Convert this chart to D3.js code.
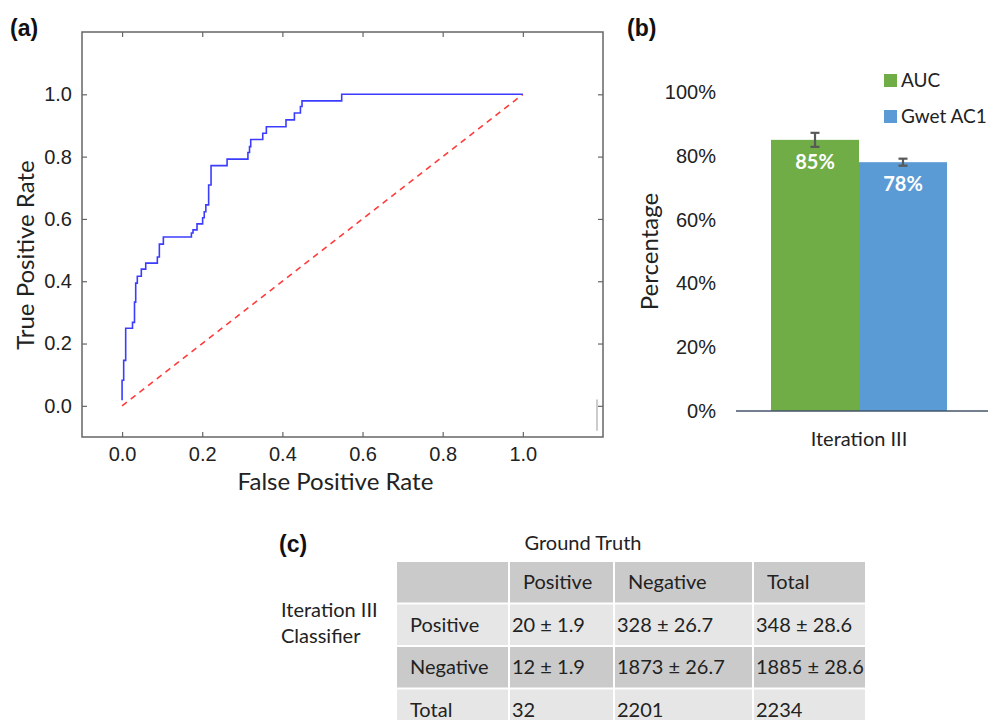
<!DOCTYPE html>
<html>
<head>
<meta charset="utf-8">
<script src="https://cdn.jsdelivr.net/npm/d3@7"></script>
<style>
  body { margin: 0; background: #fff; }
  svg { display: block; font-family: Lato, "Open Sans", sans-serif; }
</style>
</head>
<body>
<svg id="fig" width="988" height="720"></svg>
<script>
// ROC curve vertices (false positive rate, true positive rate)
const rocFpr = [0.000, 0.000, 0.004, 0.004, 0.009, 0.009, 0.026, 0.026, 0.031, 0.031,
  0.034, 0.034, 0.038, 0.038, 0.048, 0.048, 0.059, 0.059, 0.088, 0.088,
  0.093, 0.093, 0.103, 0.103, 0.173, 0.173, 0.177, 0.177, 0.187, 0.187,
  0.201, 0.201, 0.205, 0.205, 0.209, 0.209, 0.216, 0.216, 0.222, 0.222,
  0.262, 0.262, 0.314, 0.314, 0.318, 0.318, 0.321, 0.321, 0.351, 0.351,
  0.360, 0.360, 0.409, 0.409, 0.430, 0.430, 0.445, 0.445, 0.449, 0.449,
  0.548, 0.548, 1.000];
const rocTpr = [0.018, 0.082, 0.082, 0.146, 0.146, 0.249, 0.249, 0.268, 0.268, 0.333,
  0.333, 0.394, 0.394, 0.416, 0.416, 0.439, 0.439, 0.458, 0.458, 0.478,
  0.478, 0.519, 0.519, 0.542, 0.542, 0.555, 0.555, 0.565, 0.565, 0.584,
  0.584, 0.604, 0.604, 0.623, 0.623, 0.645, 0.645, 0.709, 0.709, 0.771,
  0.771, 0.792, 0.792, 0.813, 0.813, 0.832, 0.832, 0.855, 0.855, 0.875,
  0.875, 0.896, 0.896, 0.918, 0.918, 0.940, 0.940, 0.961, 0.961, 0.979,
  0.979, 1.000, 1.000];
const chanceLine = [0, 1];
const rocTicks = [0, 0.2, 0.4, 0.6, 0.8, 1.0];

// bar chart (b)
const barCategories = ["Iteration III"];
const barSeries = ["AUC", "Gwet AC1"];
const barValues = [85, 78];
const barErrors = [2.2, 1.1];
const barTicks = [0, 20, 40, 60, 80, 100];

// table (c)
const tableColumns = ["", "Positive", "Negative", "Total"];
const tableRowLabels = ["Positive", "Negative", "Total"];
const tableCells = [
  ["20 ± 1.9", "328 ± 26.7", "348 ± 28.6"],
  ["12 ± 1.9", "1873 ± 26.7", "1885 ± 28.6"],
  ["32", "2201", "2234"]
];

const svg = d3.select("#fig");
const textColor = "#222";

// ---------- (a) ROC ----------
const pLeft = 82, pRight = 603, pTop = 32, pBottom = 437;
const x = d3.scaleLinear([-0.1, 1.2], [pLeft, pRight]);
const y = d3.scaleLinear([-0.1, 1.2], [pBottom, pTop]);

const roc = svg.append("g");

const styleAxis = g => {
  g.select(".domain").remove();
  g.selectAll(".tick line").attr("stroke", "#666").attr("stroke-width", 1.2);
  g.selectAll(".tick text").attr("fill", textColor).style("font-size", "20px");
};

roc.append("g")
  .attr("transform", `translate(0,${pBottom})`)
  .call(d3.axisBottom(x).tickValues(rocTicks).tickFormat(d3.format(".1f")).tickSize(-5).tickPadding(10))
  .call(styleAxis);
roc.append("g")
  .attr("transform", `translate(0,${pTop})`)
  .call(d3.axisTop(x).tickValues(rocTicks).tickFormat("").tickSize(-5))
  .call(styleAxis);
roc.append("g")
  .attr("transform", `translate(${pLeft},0)`)
  .call(d3.axisLeft(y).tickValues(rocTicks).tickFormat(d3.format(".1f")).tickSize(-5).tickPadding(10))
  .call(styleAxis);
roc.append("g")
  .attr("transform", `translate(${pRight},0)`)
  .call(d3.axisRight(y).tickValues(rocTicks).tickFormat("").tickSize(-5))
  .call(styleAxis);

roc.append("rect")
  .attr("x", pLeft).attr("y", pTop)
  .attr("width", pRight - pLeft).attr("height", pBottom - pTop)
  .attr("fill", "none").attr("stroke", "#666").attr("stroke-width", 1.5);

// odd little grey mark near the lower right corner
roc.append("line")
  .attr("x1", x(1.185)).attr("x2", x(1.185))
  .attr("y1", y(0.02)).attr("y2", y(-0.08))
  .attr("stroke", "#bbb").attr("stroke-width", 1.5);

roc.append("path")
  .attr("d", d3.line()(chanceLine.map(v => [x(v), y(v)])))
  .attr("fill", "none")
  .attr("stroke", "#ff3b3b")
  .attr("stroke-width", 1.6)
  .attr("stroke-dasharray", "6,5");

roc.append("path")
  .attr("d", d3.line()(rocFpr.map((f, i) => [x(f), y(rocTpr[i])])))
  .attr("fill", "none")
  .attr("stroke", "#3c3cff")
  .attr("stroke-width", 1.6);

roc.append("text")
  .attr("x", (x(0) + x(1)) / 2 + 13).attr("y", 490)
  .attr("text-anchor", "middle")
  .attr("fill", textColor)
  .style("font-size", "24px")
  .text("False Positive Rate");

roc.append("text")
  .attr("transform", `translate(34,${y(0.5) + 5}) rotate(-90)`)
  .attr("text-anchor", "middle")
  .attr("fill", textColor)
  .style("font-size", "24px")
  .text("True Positive Rate");

// panel letters
const panelLabel = (px, py, t) => svg.append("text")
  .attr("x", px).attr("y", py)
  .attr("fill", "#111")
  .style("font-family", "'Liberation Sans', Arial, sans-serif")
  .style("font-weight", "bold")
  .style("font-size", "23px")
  .text(t);
panelLabel(10, 36, "(a)");
panelLabel(627, 36, "(b)");
panelLabel(279, 552, "(c)");

// ---------- (b) bars ----------
const yB = d3.scaleLinear([0, 100], [411, 92]);
const x0 = d3.scaleBand(barCategories, [736, 982]).paddingOuter(0.199);
const x1 = d3.scaleBand(barSeries, [0, x0.bandwidth()]);
const barColor = d3.scaleOrdinal(barSeries, ["#70ad47", "#5b9bd5"]);

const bars = svg.append("g");

bars.append("g")
  .attr("transform", "translate(736,0)")
  .call(d3.axisLeft(yB).tickValues(barTicks).tickFormat(d => d + "%").tickSize(0).tickPadding(20))
  .call(g => g.select(".domain").remove())
  .call(g => g.selectAll(".tick text").attr("fill", textColor).style("font-size", "20px"));

const grp = bars.append("g")
  .attr("transform", `translate(${x0(barCategories[0])},0)`);

grp.selectAll("rect")
  .data(barSeries)
  .join("rect")
  .attr("x", d => x1(d))
  .attr("y", (d, i) => yB(barValues[i]))
  .attr("width", x1.bandwidth())
  .attr("height", (d, i) => yB(0) - yB(barValues[i]))
  .attr("fill", d => barColor(d));

grp.selectAll(".val")
  .data(barSeries)
  .join("text")
  .attr("class", "val")
  .attr("x", d => x1(d) + x1.bandwidth() / 2)
  .attr("y", (d, i) => yB(barValues[i]) + 29)
  .attr("text-anchor", "middle")
  .attr("fill", "#fff")
  .style("font-weight", "bold")
  .style("font-size", "20px")
  .text((d, i) => barValues[i] + "%");

const err = grp.selectAll(".err")
  .data(barSeries)
  .join("g")
  .attr("class", "err")
  .attr("stroke", "#595959")
  .attr("stroke-width", 2.2);
err.append("line")
  .attr("x1", d => x1(d) + x1.bandwidth() / 2)
  .attr("x2", d => x1(d) + x1.bandwidth() / 2)
  .attr("y1", (d, i) => yB(barValues[i] + barErrors[i]))
  .attr("y2", (d, i) => yB(barValues[i] - barErrors[i]));
[1, -1].forEach(s => {
  err.append("line")
    .attr("x1", d => x1(d) + x1.bandwidth() / 2 - 4.5)
    .attr("x2", d => x1(d) + x1.bandwidth() / 2 + 4.5)
    .attr("y1", (d, i) => yB(barValues[i] + s * barErrors[i]))
    .attr("y2", (d, i) => yB(barValues[i] + s * barErrors[i]));
});

bars.append("line")
  .attr("x1", 736).attr("x2", 988)
  .attr("y1", yB(0)).attr("y2", yB(0))
  .attr("stroke", "#44546a").attr("stroke-width", 1.5);

bars.append("text")
  .attr("x", x0(barCategories[0]) + x0.bandwidth() / 2)
  .attr("y", 446)
  .attr("text-anchor", "middle")
  .attr("fill", textColor)
  .style("font-size", "20px")
  .text(barCategories[0]);

bars.append("text")
  .attr("transform", `translate(658,${yB(50)}) rotate(-90)`)
  .attr("text-anchor", "middle")
  .attr("fill", textColor)
  .style("font-size", "24px")
  .text("Percentage");

const legend = bars.selectAll(".leg")
  .data(barSeries)
  .join("g")
  .attr("class", "leg")
  .attr("transform", (d, i) => `translate(884,${74 + i * 36})`);
legend.append("rect").attr("width", 13).attr("height", 13).attr("fill", d => barColor(d));
legend.append("text")
  .attr("x", 17).attr("y", 6.5).attr("dy", "0.35em")
  .attr("fill", textColor)
  .style("font-size", "19px")
  .text(d => d);

// ---------- (c) table ----------
const colEdges = [396, 509, 614, 753, 866];
const colX = d3.scaleOrdinal(tableColumns.map((c, i) => i), colEdges.slice(0, 4));
const rowY = d3.scaleBand(d3.range(tableRowLabels.length + 1), [561, 731]);
const rowFill = i => (i % 2 === 0 ? "#cacaca" : "#e6e6e6");

const tbl = svg.append("g");

const tableRows = [tableColumns].concat(tableRowLabels.map((r, i) => [r].concat(tableCells[i])));

tableRows.forEach((row, ri) => {
  row.forEach((cell, ci) => {
    tbl.append("rect")
      .attr("x", colX(ci) + 1)
      .attr("y", rowY(ri) + 1)
      .attr("width", colEdges[ci + 1] - colEdges[ci] - 2)
      .attr("height", rowY.bandwidth() - 2)
      .attr("fill", rowFill(ri));
    const pad = (ri === 0 || ci === 0) ? 14 : 3;
    tbl.append("text")
      .attr("x", colX(ci) + pad)
      .attr("y", rowY(ri) + rowY.bandwidth() / 2)
      .attr("dy", "0.35em")
      .attr("fill", textColor)
      .style("font-size", "20px")
      .text(cell);
  });
});

tbl.append("text")
  .attr("x", 583).attr("y", 543).attr("dy", "0.35em")
  .attr("text-anchor", "middle")
  .attr("fill", textColor)
  .style("font-size", "20px")
  .text("Ground Truth");

tbl.append("text")
  .attr("x", 281).attr("y", 610).attr("dy", "0.35em")
  .attr("fill", textColor)
  .style("font-size", "20px")
  .text("Iteration III");
tbl.append("text")
  .attr("x", 281).attr("y", 636).attr("dy", "0.35em")
  .attr("fill", textColor)
  .style("font-size", "20px")
  .text("Classifier");
</script>
</body>
</html>
